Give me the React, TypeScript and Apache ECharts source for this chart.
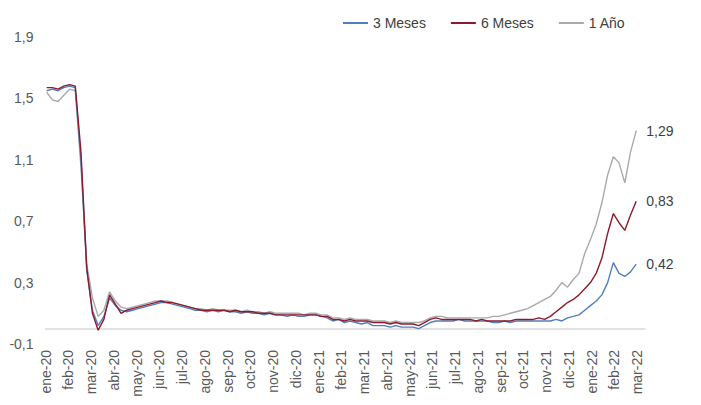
import React, { useEffect, useRef } from "react";
import * as echarts from "echarts";

// Month tick labels (one per month, ene-20 .. mar-22)
const months = [
  "ene-20", "feb-20", "mar-20", "abr-20", "may-20", "jun-20", "jul-20", "ago-20", "sep-20",
  "oct-20", "nov-20", "dic-20", "ene-21", "feb-21", "mar-21", "abr-21", "may-21", "jun-21",
  "jul-21", "ago-21", "sep-21", "oct-21", "nov-21", "dic-21", "ene-22", "feb-22", "mar-22",
];

// Sampling of the series (roughly weekly), expressed in months since ene-20
const SAMPLE_START = 0.05;
const SAMPLE_STEP = 0.2516;

// Yields (%), roughly weekly readings
const meses3 = [
  1.55, 1.56, 1.55, 1.57,
  1.58, 1.57, 1.10, 0.38,
  0.12, 0.02, 0.08, 0.20,
  0.15, 0.12, 0.11, 0.12,
  0.13, 0.14, 0.15, 0.16,
  0.17, 0.17, 0.16, 0.15,
  0.14, 0.13, 0.12, 0.12,
  0.11, 0.12, 0.11, 0.12,
  0.11, 0.11, 0.10, 0.11,
  0.10, 0.10, 0.09, 0.10,
  0.09, 0.09, 0.08, 0.09,
  0.08, 0.08, 0.09, 0.09,
  0.08, 0.07, 0.05, 0.06,
  0.04, 0.05, 0.04, 0.03,
  0.04, 0.02, 0.02, 0.02,
  0.01, 0.02, 0.01, 0.01,
  0.01, 0.00, 0.02, 0.04,
  0.05, 0.05, 0.05, 0.05,
  0.06, 0.05, 0.05, 0.05,
  0.05, 0.05, 0.04, 0.04,
  0.05, 0.04, 0.05, 0.05,
  0.05, 0.05, 0.05, 0.05,
  0.05, 0.06, 0.05, 0.07,
  0.08, 0.09, 0.12, 0.15,
  0.18, 0.22, 0.30, 0.43,
  0.36, 0.34, 0.37, 0.42,
];

const meses6 = [
  1.57, 1.57, 1.56, 1.58,
  1.59, 1.58, 1.15, 0.40,
  0.10, -0.01, 0.06, 0.22,
  0.16, 0.10, 0.12, 0.13,
  0.14, 0.15, 0.16, 0.17,
  0.18, 0.17, 0.17, 0.16,
  0.15, 0.14, 0.13, 0.12,
  0.12, 0.12, 0.12, 0.12,
  0.11, 0.12, 0.11, 0.11,
  0.11, 0.10, 0.10, 0.10,
  0.09, 0.09, 0.09, 0.09,
  0.09, 0.09, 0.09, 0.09,
  0.08, 0.08, 0.06, 0.06,
  0.05, 0.06, 0.05, 0.05,
  0.05, 0.04, 0.04, 0.04,
  0.03, 0.04, 0.03, 0.03,
  0.03, 0.02, 0.04, 0.06,
  0.07, 0.06, 0.06, 0.06,
  0.06, 0.06, 0.06, 0.05,
  0.06, 0.05, 0.05, 0.05,
  0.05, 0.05, 0.06, 0.06,
  0.06, 0.06, 0.07, 0.06,
  0.08, 0.11, 0.14, 0.17,
  0.19, 0.22, 0.26, 0.30,
  0.36, 0.46, 0.62, 0.75,
  0.69, 0.64, 0.74, 0.83,
];

const anio1 = [
  1.54, 1.49, 1.48, 1.52,
  1.56, 1.55, 1.05, 0.42,
  0.20, 0.08, 0.12, 0.24,
  0.18, 0.14, 0.13, 0.14,
  0.15, 0.16, 0.17, 0.18,
  0.18, 0.18, 0.17, 0.16,
  0.15, 0.14, 0.13, 0.13,
  0.12, 0.13, 0.12, 0.12,
  0.12, 0.12, 0.11, 0.12,
  0.11, 0.11, 0.10, 0.11,
  0.10, 0.10, 0.10, 0.10,
  0.10, 0.09, 0.10, 0.10,
  0.09, 0.09, 0.07, 0.07,
  0.06, 0.07, 0.06, 0.06,
  0.06, 0.05, 0.05, 0.05,
  0.04, 0.05, 0.04, 0.04,
  0.04, 0.04, 0.05, 0.07,
  0.08, 0.08, 0.07, 0.07,
  0.07, 0.07, 0.07, 0.07,
  0.07, 0.07, 0.08, 0.08,
  0.09, 0.10, 0.11, 0.12,
  0.13, 0.15, 0.17, 0.19,
  0.21, 0.25, 0.30, 0.27,
  0.32, 0.36, 0.49, 0.58,
  0.68, 0.82, 1.00, 1.12,
  1.08, 0.95, 1.15, 1.29,
];

const seriesNames = ["3 Meses", "6 Meses", "1 Año"];
const seriesColors = ["#4f7fbf", "#8e1b2c", "#a9a9a9"];

const FONT = '"Liberation Sans", Arial, sans-serif';

function toPoints(values: number[]) {
  return values.map((v, i) => [SAMPLE_START + i * SAMPLE_STEP, v]);
}

export default function App() {
  const ref = useRef<HTMLDivElement>(null);

  useEffect(() => {
    if (!ref.current) return;
    const chart = echarts.init(ref.current, undefined, { renderer: "svg" });
    const all = [meses3, meses6, anio1];
    chart.setOption({
      animation: false,
      backgroundColor: "#ffffff",
      textStyle: { fontFamily: FONT },
      legend: {
        data: seriesNames,
        left: 338,
        top: 11,
        icon: "rect",
        itemWidth: 25,
        itemHeight: 2,
        itemGap: 25,
        textStyle: { fontSize: 14, color: "#404040", fontFamily: FONT },
      },
      grid: { left: 45.5, right: 56, top: 37, bottom: 61, containLabel: false },
      xAxis: {
        type: "value",
        min: 0,
        max: 26.35,
        interval: 1,
        axisLine: { show: true, lineStyle: { color: "#d9d9d9", width: 1.5 } },
        axisTick: { show: false },
        splitLine: { show: false },
        axisLabel: {
          rotate: 90,
          margin: 6,
          fontSize: 14,
          color: "#595959",
          fontFamily: FONT,
          showMaxLabel: false,
          formatter: (v: number) => {
            const r = Math.round(v);
            return Math.abs(v - r) < 1e-6 && months[r] ? months[r] : "";
          },
        },
      },
      yAxis: {
        type: "value",
        min: -0.1,
        max: 1.9,
        interval: 0.4,
        axisLine: { show: false },
        axisTick: { show: false },
        splitLine: { show: false },
        axisLabel: {
          margin: 12,
          fontSize: 14,
          color: "#595959",
          fontFamily: FONT,
          formatter: (v: number) => v.toFixed(1).replace(".", ","),
        },
      },
      series: all.map((vals, i) => ({
        name: seriesNames[i],
        type: "line",
        data: toPoints(vals),
        showSymbol: false,
        symbol: "none",
        color: seriesColors[i],
        lineStyle: { width: 1.4, color: seriesColors[i] },
        endLabel: {
          show: true,
          distance: 10,
          fontSize: 14,
          color: "#404040",
          fontFamily: FONT,
          formatter: (p: any) => Number(p.value[1]).toFixed(2).replace(".", ","),
        },
        z: i === 2 ? 1 : 2,
      })),
    });
    return () => chart.dispose();
  }, []);

  return (
    <div
      ref={ref}
      style={{ position: "fixed", left: 0, top: 0, width: 701, height: 405 }}
    />
  );
}
